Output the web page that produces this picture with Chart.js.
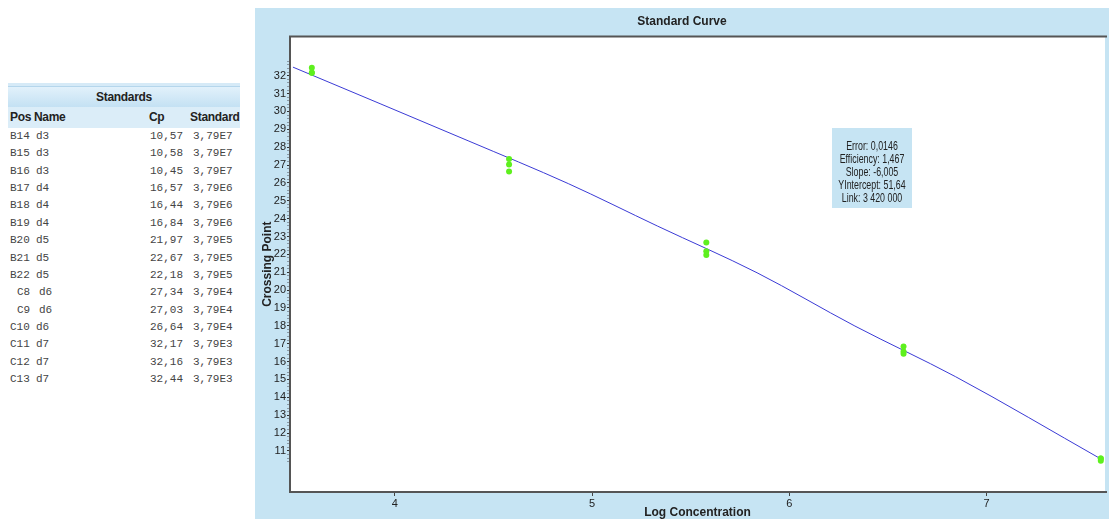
<!DOCTYPE html>
<html>
<head>
<meta charset="utf-8">
<script src="https://cdn.jsdelivr.net/npm/chart.js@4.4.1/dist/chart.umd.min.js"></script>
<style>
  html,body{margin:0;padding:0;background:#fff;width:1109px;height:519px;overflow:hidden;}
  #tbl{position:absolute;left:8px;top:83px;width:232px;font-family:'Liberation Mono','DejaVu Sans Mono',monospace;font-size:11px;color:#444;}
  #tbl .top{height:3px;background:#d6eaf7;}
  #tbl .ttl{height:20px;line-height:20px;text-align:center;font-family:'Liberation Sans',sans-serif;font-weight:bold;font-size:12px;letter-spacing:-0.3px;color:#222;background:linear-gradient(#e2f1fb,#c4e1f3);border-top:1px solid #b5d6ec;}
  #tbl .hdr{height:21px;line-height:21px;position:relative;font-family:'Liberation Sans',sans-serif;font-weight:bold;font-size:12px;letter-spacing:-0.3px;color:#222;background:#dbedf8;}
  #tbl .row{height:17.36px;line-height:17.36px;position:relative;}
  #tbl span{position:absolute;white-space:nowrap;}
  #panel{position:absolute;left:255px;top:8px;width:854px;height:511px;background:#c6e4f3;}
  #stats{position:absolute;left:832px;top:128px;width:80px;height:80px;background:#c6e4f3;}
  #stats div{position:absolute;left:-20px;width:120px;top:11px;font-family:'Liberation Sans',sans-serif;font-size:13px;color:#222;text-align:center;line-height:13px;white-space:nowrap;transform:scaleX(0.68);transform-origin:50% 0;}
</style>
</head>
<body>
<div id="tbl"></div>
<div id="panel"><canvas id="c" width="854" height="511"></canvas></div>
<div id="stats"><div id="statsText"></div></div>
<script>
// ---- data ----
const positions = ['B14','B15','B16','B17','B18','B19','B20','B21','B22','C8','C9','C10','C11','C12','C13'];
const names     = ['d3','d3','d3','d4','d4','d4','d5','d5','d5','d6','d6','d6','d7','d7','d7'];
const cpValues  = [10.57,10.58,10.45,16.57,16.44,16.84,21.97,22.67,22.18,27.34,27.03,26.64,32.17,32.16,32.44];
const cpLabels  = ['10,57','10,58','10,45','16,57','16,44','16,84','21,97','22,67','22,18','27,34','27,03','26,64','32,17','32,16','32,44'];
const standards = [3.79e7,3.79e7,3.79e7,3.79e6,3.79e6,3.79e6,3.79e5,3.79e5,3.79e5,3.79e4,3.79e4,3.79e4,3.79e3,3.79e3,3.79e3];
const stdLabels = ['3,79E7','3,79E7','3,79E7','3,79E6','3,79E6','3,79E6','3,79E5','3,79E5','3,79E5','3,79E4','3,79E4','3,79E4','3,79E3','3,79E3','3,79E3'];
// fitted curve
const fitX = [3.483, 4.375, 4.879, 5.332, 5.836, 6.332, 6.843, 7.579];
const fitY = [32.48, 28.34, 25.96, 23.58, 20.97, 17.99, 15.15, 10.55];
const xTicks = [4, 5, 6, 7];
const yLabelMin = 11, yLabelMax = 32;
const statsLines = ['Error: 0,0146','Efficiency: 1,467','Slope: -6,005','YIntercept: 51,64','Link: 3 420 000'];

// ---- table ----
const tbl = document.getElementById('tbl');
let html = '<div class="top"></div><div class="ttl">Standards</div>';
html += '<div class="hdr"><span style="left:2px">Pos</span><span style="left:26px">Name</span><span style="left:141px">Cp</span><span style="left:182px">Standard</span></div>';
for (let i = 0; i < positions.length; i++) {
  const p = positions[i];
  const pl = p.length === 2 ? 9 : 2;
  html += '<div class="row"><span style="left:'+pl+'px">'+p+'</span><span style="left:'+(p.length===2?31:28)+'px">'+names[i]+'</span>'+
          '<span style="right:57px">'+cpLabels[i]+'</span><span style="left:185px">'+stdLabels[i]+'</span></div>';
}
tbl.innerHTML = html;
document.getElementById('statsText').innerHTML = statsLines.join('<br>');

// ---- chart ----
const pts = cpValues.map((v, i) => ({x: Math.log10(standards[i]), y: v}));
const fit = fitX.map((x, i) => ({x: x, y: fitY[i]}));
const FONT = "'Liberation Sans',sans-serif";

const frame = {
  id: 'frame',
  beforeDraw(chart) {
    const a = chart.chartArea, ctx = chart.ctx;
    ctx.save(); ctx.fillStyle = '#fff';
    ctx.fillRect(a.left, a.top, a.right - a.left, a.bottom - a.top);
    ctx.restore();
  },
  afterDraw(chart) {
    const a = chart.chartArea, ctx = chart.ctx;
    ctx.save(); ctx.strokeStyle = '#555'; ctx.lineWidth = 2;
    ctx.beginPath();
    ctx.moveTo(a.right + 2, a.top); ctx.lineTo(a.left, a.top); ctx.lineTo(a.left, a.bottom); ctx.lineTo(a.right + 2, a.bottom);
    ctx.stroke(); ctx.restore();
  }
};

new Chart(document.getElementById('c'), {
  type: 'scatter',
  data: {
    datasets: [
      {type: 'line', data: fit, borderColor: '#3b3bd6', borderWidth: 1, pointRadius: 0, cubicInterpolationMode: 'monotone', fill: false, order: 2},
      {data: pts, backgroundColor: '#5ef01e', borderWidth: 0, pointRadius: 3, order: 1}
    ]
  },
  options: {
    responsive: false, animation: false, maintainAspectRatio: false,
    layout: {padding: {left: 0, right: 0, top: 0, bottom: 0}},
    plugins: {
      legend: {display: false}, tooltip: {enabled: false},
      title: {display: true, text: 'Standard Curve', color: '#222', font: {family: FONT, size: 12, weight: 'bold'}, padding: {top: 6, bottom: 8}}
    },
    scales: {
      x: {
        type: 'linear', min: 3.468, max: 7.6,
        afterBuildTicks: s => { s.ticks = xTicks.map(v => ({value: v})); },
        afterFit: s => { s.height = 27; },
        ticks: {color: '#222', font: {family: FONT, size: 11}, padding: 1, maxRotation: 0, callback: v => String(v)},
        grid: {drawOnChartArea: false, tickLength: 4, color: '#444'},
        border: {display: false},
        title: {display: true, text: 'Log Concentration', color: '#222', font: {family: FONT, size: 12, weight: 'bold'}, padding: {top: 0, bottom: -1}}
      },
      y: {
        type: 'linear', min: 8.7, max: 34.2,
        afterBuildTicks: s => {
          const t = [];
          for (let k = 52; k <= 164; k++) t.push({value: Math.round(k * 2) / 10});
          s.ticks = t;
        },
        afterFit: s => { s.width = 35; },
        ticks: {color: '#222', font: {family: FONT, size: 11}, padding: 1, autoSkip: false,
          callback: v => (Math.abs(v - Math.round(v)) < 1e-6 && v >= yLabelMin && v <= yLabelMax) ? String(Math.round(v)) : ''},
        grid: {drawOnChartArea: false, tickLength: 3,
          color: c => (c.tick && Math.abs(c.tick.value - Math.round(c.tick.value)) < 1e-6) ? '#333' : '#8a9aa6'},
        border: {display: false},
        title: {display: true, text: 'Crossing Point', color: '#222', font: {family: FONT, size: 12, weight: 'bold'}, padding: {top: 5, bottom: 0}}
      }
    }
  },
  plugins: [frame]
});
</script>
</body>
</html>
